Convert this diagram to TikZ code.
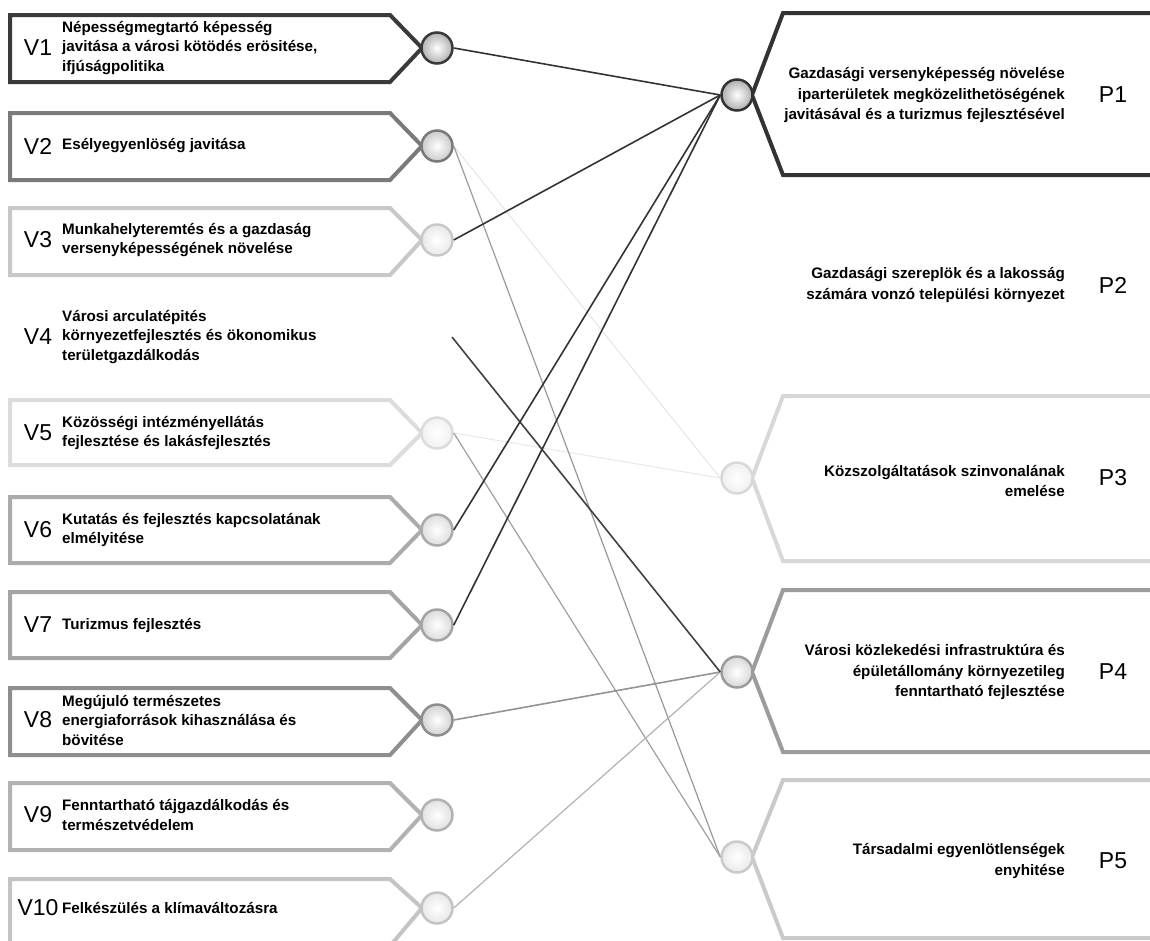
\documentclass[tikz,border=0pt]{standalone}
\usepackage{fontspec}
\setmainfont{Liberation Sans}
\usepackage{xcolor}
\definecolor{vone}{HTML}{3A3A3A}
\definecolor{vtwo}{HTML}{7A7A7A}
\definecolor{vthree}{HTML}{C8C8C8}
\definecolor{vfive}{HTML}{DCDCDC}
\definecolor{vsix}{HTML}{ABABAB}
\definecolor{vseven}{HTML}{A4A4A4}
\definecolor{veight}{HTML}{8E8E8E}
\definecolor{vnine}{HTML}{B2B2B2}
\definecolor{vten}{HTML}{C4C4C4}
\definecolor{pone}{HTML}{333333}
\definecolor{pthree}{HTML}{D8D8D8}
\definecolor{pfour}{HTML}{9C9C9C}
\definecolor{pfive}{HTML}{CACACA}

\begin{document}
\begin{tikzpicture}[
    x=1pt, y=-1pt,
    vtext/.style={anchor=west, align=left, inner sep=0pt, font=\fontsize{15.2}{19.5}\selectfont\bfseries},
    ptext/.style={anchor=east, align=right, inner sep=0pt, font=\fontsize{15.2}{20.5}\selectfont\bfseries},
    vlabel/.style={inner sep=0pt, font=\fontsize{23}{23}\selectfont},
    knob/.style={circle, minimum size=31pt, inner sep=0pt, line width=2.5pt, draw=#1, inner color=white, outer color=#1!40},
    frame/.style={line width=4pt, line join=miter, draw=#1},
    link/.style={line width=1.6pt, draw=#1},
]
\useasboundingbox (0,0) rectangle (1150,940);

% Vision boxes (left)
\draw[frame=vone] (10,15) -- (390,15) -- (422,48) -- (390,82) -- (10,82) -- cycle;
\node[knob=vone] (v1c) at (437,48) {};
\node[vlabel] (v1l) at (38,48) {V1};
\node[vtext] (v1t) at (62,48) {Népességmegtartó képesség\\javitása a városi kötödés erösitése,\\ifjúságpolitika};

\draw[frame=vtwo] (10,113) -- (390,113) -- (422,146) -- (390,180) -- (10,180) -- cycle;
\node[knob=vtwo] (v2c) at (437,146) {};
\node[vlabel] (v2l) at (38,146) {V2};
\node[vtext] (v2t) at (62,146) {Esélyegyenlöség javitása};

\draw[frame=vthree] (10,208) -- (390,208) -- (422,240) -- (390,275) -- (10,275) -- cycle;
\node[knob=vthree] (v3c) at (437,240) {};
\node[vlabel] (v3l) at (38,240) {V3};
\node[vtext] (v3t) at (62,240) {Munkahelyteremtés és a gazdaság\\versenyképességének növelése};

\coordinate (v4c) at (452,337);
\node[vlabel] (v4l) at (38,337) {V4};
\node[vtext] (v4t) at (62,337) {Városi arculatépités\\környezetfejlesztés és ökonomikus\\területgazdálkodás};

\draw[frame=vfive] (10,400) -- (390,400) -- (422,433) -- (390,465) -- (10,465) -- cycle;
\node[knob=vfive] (v5c) at (437,433) {};
\node[vlabel] (v5l) at (38,433) {V5};
\node[vtext] (v5t) at (62,433) {Közösségi intézményellátás\\fejlesztése és lakásfejlesztés};

\draw[frame=vsix] (10,497) -- (390,497) -- (422,530) -- (390,563) -- (10,563) -- cycle;
\node[knob=vsix] (v6c) at (437,530) {};
\node[vlabel] (v6l) at (38,530) {V6};
\node[vtext] (v6t) at (62,530) {Kutatás és fejlesztés kapcsolatának\\elmélyitése};

\draw[frame=vseven] (10,592) -- (390,592) -- (422,625) -- (390,658) -- (10,658) -- cycle;
\node[knob=vseven] (v7c) at (437,625) {};
\node[vlabel] (v7l) at (38,625) {V7};
\node[vtext] (v7t) at (62,625) {Turizmus fejlesztés};

\draw[frame=veight] (10,688) -- (390,688) -- (422,720) -- (390,755) -- (10,755) -- cycle;
\node[knob=veight] (v8c) at (437,720) {};
\node[vlabel] (v8l) at (38,720) {V8};
\node[vtext] (v8t) at (62,720) {Megújuló természetes\\energiaforrások kihasználása és\\bövitése};

\draw[frame=vnine] (10,783) -- (390,783) -- (422,815) -- (390,850) -- (10,850) -- cycle;
\node[knob=vnine] (v9c) at (437,815) {};
\node[vlabel] (v9l) at (38,815) {V9};
\node[vtext] (v9t) at (62,815) {Fenntartható tájgazdálkodás és\\természetvédelem};

\draw[frame=vten] (10,879) -- (390,879) -- (422,908) -- (390,946) -- (10,946) -- cycle;
\node[knob=vten] (v10c) at (437,908) {};
\node[vlabel] (v10l) at (38,908) {V10};
\node[vtext] (v10t) at (62,908) {Felkészülés a klímaváltozásra};

% Priority boxes (right)
\draw[frame=pone] (1150,13) -- (783,13) -- (752,95) -- (783,175) -- (1150,175);
\node[knob=pone] (p1c) at (737,95) {};
\node[vlabel] (p1l) at (1113,95) {P1};
\node[ptext] (p1t) at (1065,95) {Gazdasági versenyképesség növelése\\iparterületek megközelithetöségének\\javitásával és a turizmus fejlesztésével};

\node[vlabel] (p2l) at (1113,285) {P2};
\node[ptext] (p2t) at (1065,285) {Gazdasági szereplök és a lakosság\\számára vonzó települési környezet};

\draw[frame=pthree] (1150,396) -- (783,396) -- (752,478) -- (783,561) -- (1150,561);
\node[knob=pthree] (p3c) at (737,478) {};
\node[vlabel] (p3l) at (1113,478) {P3};
\node[ptext] (p3t) at (1065,481) {Közszolgáltatások szinvonalának\\emelése};

\draw[frame=pfour] (1150,590) -- (783,590) -- (752,672) -- (783,752) -- (1150,752);
\node[knob=pfour] (p4c) at (737,672) {};
\node[vlabel] (p4l) at (1113,672) {P4};
\node[ptext] (p4t) at (1065,672) {Városi közlekedési infrastruktúra és\\épületállomány környezetileg\\fenntartható fejlesztése};

\draw[frame=pfive] (1150,780) -- (783,780) -- (752,857) -- (783,938) -- (1150,938);
\node[knob=pfive] (p5c) at (737,857) {};
\node[vlabel] (p5l) at (1113,861) {P5};
\node[ptext] (p5t) at (1065,861) {Társadalmi egyenlötlenségek\\enyhitése};

% Links
\draw[link=gray!20, line width=1pt] (v2c.east) -- (p3c.west);
\draw[link=gray!18, line width=1pt] (v5c.east) -- (p3c.west);
\draw[link=gray!80, line width=1.2pt] (v2c.east) -- (p5c.west);
\draw[link=gray!75, line width=1.2pt] (v5c.east) -- (p5c.west);
\draw[link=gray!85] (v8c.east) -- (p4c.west);
\draw[link=gray!60, line width=1.2pt] (v10c.east) -- (p4c.west);
\draw[link=black!75] (v4c) -- (p4c.west);
\draw[link=black!80] (v1c.east) -- (p1c.west);
\draw[link=black!80] (v3c.east) -- (p1c.west);
\draw[link=black!80] (v6c.east) -- (p1c.west);
\draw[link=black!80] (v7c.east) -- (p1c.west);

\end{tikzpicture}
\end{document}
